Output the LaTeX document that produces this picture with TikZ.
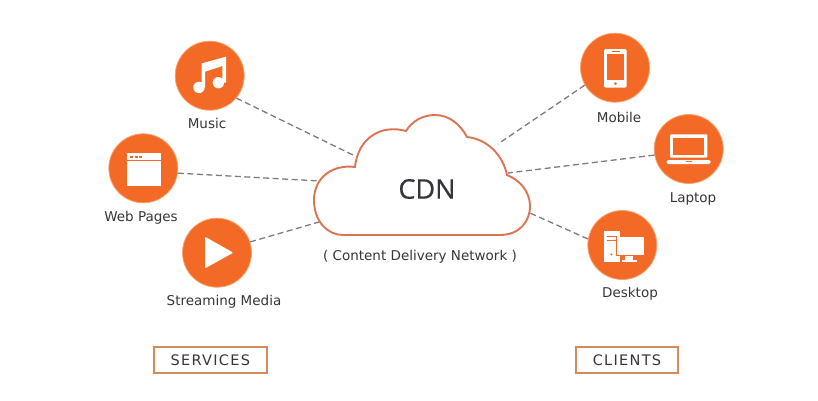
\documentclass[tikz,border=0pt]{standalone}
\usepackage{fontspec}
\setmainfont{Open Sans}
\newfontfamily\handfont{DejaVu Sans}
\newfontfamily\tagfont[LetterSpace=9]{DejaVu Sans}
\newfontfamily\titlefont[FakeBold=0.6]{Open Sans}
\definecolor{cdnorange}{HTML}{F26A25}
\definecolor{cdnrim}{HTML}{F9A46E}
\definecolor{cdnline}{HTML}{DB7452}
\definecolor{cdnbox}{HTML}{D58A5C}
\definecolor{cdngray}{HTML}{7C7C7C}
\definecolor{cdnink}{HTML}{33363A}
\tikzset{
    badge/.style={draw=cdnrim, line width=0.8pt, circle, fill=cdnorange, minimum size=69pt, inner sep=0pt},
    link/.style={draw=cdngray, line width=1.3pt, dash pattern=on 6pt off 3.5pt},
    lbl/.style={text=cdnink, font=\handfont\fontsize{13.5}{14}\selectfont},
    tagbox/.style={draw=cdnbox, line width=1.8pt, minimum width=113pt, minimum height=26pt, inner sep=0pt, text=cdnink, font=\tagfont\fontsize{14.5}{15}\selectfont},
    tagboxb/.style={tagbox, minimum width=102pt}
}
\begin{document}
\begin{tikzpicture}[x=1pt, y=-1pt]
    \useasboundingbox (0, 0) rectangle (818, 400);

    \node[badge] (music)   at (209.7, 75.7) {};
    \node[badge] (web)     at (143.3, 168.3) {};
    \node[badge] (stream)  at (217, 252.7) {};
    \node[badge] (mobile)  at (615, 67.7) {};
    \node[badge] (laptop)  at (688.7, 149) {};
    \node[badge] (desktop) at (622.3, 245) {};

    \coordinate (cloud1) at (353, 155);
    \coordinate (cloud2) at (320, 181);
    \coordinate (cloud3) at (320, 221.7);
    \coordinate (cloud4) at (498, 144);
    \coordinate (cloud5) at (508, 173);
    \coordinate (cloud6) at (530, 213);

    \draw[link] (music.-40) -- (cloud1);
    \draw[link] (web.-8) -- (cloud2);
    \draw[link] (stream.18) -- (cloud3);
    \draw[link] (mobile.-150) -- (cloud4);
    \draw[link] (laptop.-170) -- (cloud5);
    \draw[link] (desktop.170) -- (cloud6);

    \draw[draw=cdnline, fill=white, line width=1.9pt]
        (343, 235) -- (500, 235)
        .. controls (519, 235) and (530, 222) .. (530, 206)
        .. controls (530, 192) and (520, 180) .. (507, 175)
        .. controls (503, 155) and (487, 139) .. (467, 137)
        .. controls (460, 124) and (449, 115) .. (435, 115)
        .. controls (423, 115) and (412, 121) .. (406, 131)
        .. controls (381, 124) and (358, 138) .. (355, 167)
        .. controls (332, 164) and (314, 178) .. (314, 200)
        .. controls (314, 222) and (328, 235) .. (343, 235) -- cycle;

    \begin{scope}[shift={(music)}]
        \fill[white] (-8, 11.7) -- (-8, -12.3) -- (16.3, -19) -- (16.3, 7) -- (12.7, 7)
            -- (12.7, -9.7) -- (-4.7, -4) -- (-4.7, 11.7) -- cycle;
        \fill[white] (-10.7, 11.7) circle (5.7);
        \fill[white] (8.7, 7) circle (5.7);
    \end{scope}

    \begin{scope}[shift={(web)}]
        \fill[white] (-16, -15.7) rectangle (17.3, 17.3);
        \draw[cdnorange, line width=0.7pt] (-16, -8.3) -- (17.3, -8.3);
        \foreach \i in {-13, -8.7, -4.4} {
            \fill[cdnorange] (\i, -12.5) rectangle +(3, 2.5);
        }
    \end{scope}

    \begin{scope}[shift={(stream)}]
        \fill[white, rounded corners=1pt] (-12, -16) -- (16.3, 0) -- (-12, 15.7) -- cycle;
    \end{scope}

    \begin{scope}[shift={(mobile)}]
        \fill[white, rounded corners=2pt] (-11, -18.7) rectangle (11.7, 20);
        \fill[cdnorange] (-8.3, -13.3) rectangle (9.3, 12.3);
        \fill[cdnorange] (0.5, 15.9) circle (1.5);
        \draw[cdnorange, line width=0.6pt] (-3.5, -16.2) -- (4.5, -16.2);
    \end{scope}

    \begin{scope}[shift={(laptop)}]
        \fill[white, rounded corners=1pt] (-18.7, -14.7) rectangle (18.7, 8.7);
        \fill[cdnorange] (-15.3, -10.7) rectangle (15.7, 6);
        \fill[white, rounded corners=1.5pt] (-22, 11) rectangle (22, 15);
        \draw[cdnorange, line width=0.6pt] (-3, 12) -- (3, 12);
    \end{scope}

    \begin{scope}[shift={(desktop)}]
        \fill[white] (-18.3, -14) rectangle (-2.3, 16.7);
        \draw[cdnorange, line width=0.8pt] (-15.5, -9) -- (-5.5, -9);
        \draw[cdnorange, line width=0.8pt] (-15.5, -4.5) -- (-5.5, -4.5);
        \fill[cdnorange] (-10.8, 9.5) circle (1.1);
        \fill[white] (-5.7, -8.3) rectangle (21.7, 10);
        \draw[cdnorange, line width=1pt] (-5.7, -8.3) -- (-5.7, 10.5) -- (21.7, 10.5);
        \fill[white] (2.5, 11) rectangle (11, 15);
        \fill[white] (0, 14.5) rectangle (14.5, 16.7);
    \end{scope}

    \node[text=cdnink, font=\titlefont\fontsize{27}{27}\selectfont] (cdn) at (427, 189) {CDN};
    \node[lbl] (full) at (420, 256.5) {( Content Delivery Network )};

    \node[lbl] (musiclbl)   at (207, 123.5) {Music};
    \node[lbl] (weblbl)     at (141, 217.5) {Web Pages};
    \node[lbl] (streamlbl)  at (224, 301.5) {Streaming Media};
    \node[lbl] (mobilelbl)  at (619, 117.5) {Mobile};
    \node[lbl] (laptoplbl)  at (693, 198.5) {Laptop};
    \node[lbl] (desktoplbl) at (630, 293.5) {Desktop};

    \node[tagbox] (services) at (210.3, 360) {SERVICES};
    \node[tagboxb] (clients) at (627, 360) {CLIENTS};
\end{tikzpicture}
\end{document}
